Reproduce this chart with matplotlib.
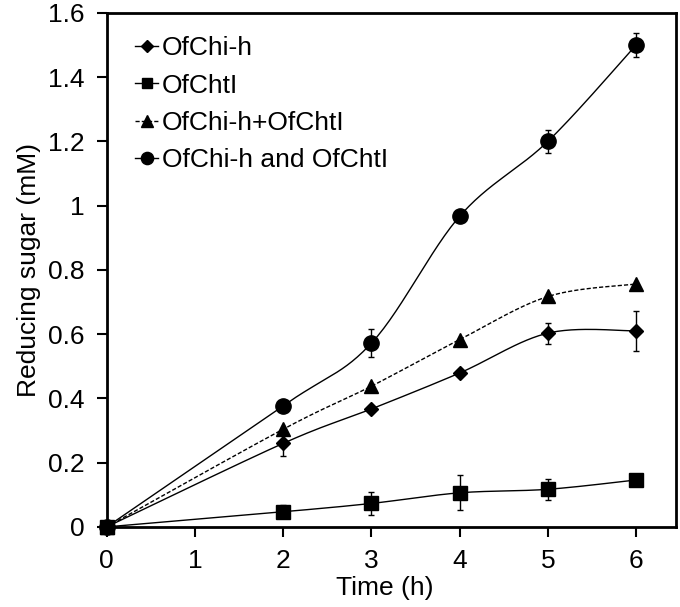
import numpy as np
import matplotlib
matplotlib.use("Agg")
import matplotlib.pyplot as plt
from matplotlib.lines import Line2D
from matplotlib.ticker import FormatStrFormatter

plt.rcParams['font.family'] = ['Liberation Sans', 'DejaVu Sans']

time_h = [0, 2, 3, 4, 5, 6]

chi_h = [0, 0.26, 0.367, 0.479, 0.603, 0.61]
chi_h_err = [0, 0.04, 0.0, 0.0, 0.033, 0.063]

chtl = [0, 0.047, 0.073, 0.106, 0.117, 0.146]
chtl_err = [0, 0.02, 0.035, 0.055, 0.032, 0.0]

chi_plus = [0, 0.304, 0.438, 0.583, 0.717, 0.756]
chi_plus_err = [0, 0, 0, 0, 0, 0]

chi_and = [0, 0.377, 0.572, 0.967, 1.2, 1.5]
chi_and_err = [0, 0, 0.044, 0, 0.036, 0.037]


def smooth(x, y, n=30):
    # excel-like smoothed line (catmull-rom bezier)
    x = np.asarray(x, float)
    y = np.asarray(y, float)
    px = np.concatenate([[x[0]], x, [x[-1]]])
    py = np.concatenate([[y[0]], y, [y[-1]]])
    xs, ys = [], []
    t = np.linspace(0, 1, n)
    for i in range(1, len(px) - 2):
        p0 = np.array([px[i], py[i]])
        p3 = np.array([px[i + 1], py[i + 1]])
        c1 = p0 + (np.array([px[i + 1], py[i + 1]]) - np.array([px[i - 1], py[i - 1]])) / 6
        c2 = p3 - (np.array([px[i + 2], py[i + 2]]) - np.array([px[i], py[i]])) / 6
        for k in range(2):
            b = ((1 - t) ** 3 * p0[k] + 3 * (1 - t) ** 2 * t * c1[k]
                 + 3 * (1 - t) * t ** 2 * c2[k] + t ** 3 * p3[k])
            (xs if k == 0 else ys).append(b)
    return np.concatenate(xs), np.concatenate(ys)


fig = plt.figure(figsize=(6.8, 6.07), dpi=100)
ax = fig.add_axes([0.157, 0.132, 0.837, 0.847])

series = [
    (chi_h, chi_h_err, 'D', 7.5, '-', 'OfChi-h'),
    (chtl, chtl_err, 's', 9.5, '-', 'OfChtI'),
    (chi_plus, chi_plus_err, '^', 10, (0, (3, 1.5)), 'OfChi-h+OfChtI'),
    (chi_and, chi_and_err, 'o', 11, '-', 'OfChi-h and OfChtI'),
]

handles = []
for vals, err, mk, ms, ls, lab in series:
    sx, sy = smooth(time_h, vals)
    ax.plot(sx, sy, color='black', lw=1.0, ls=ls)
    ax.errorbar(time_h, vals, yerr=err, fmt='none', ecolor='black',
                elinewidth=1.0, capsize=2.5, capthick=1.0)
    ax.plot(time_h, vals, ls='none', marker=mk, ms=ms, color='black',
            clip_on=False, zorder=5)
    handles.append(Line2D([], [], color='black', lw=1.0, ls=ls, marker=mk,
                          ms=ms * 0.8, label=lab))

ax.set_xlim(0, 6.45)
ax.set_ylim(0, 1.6)
ax.set_xticks(range(7))
ax.set_yticks(np.arange(0, 1.61, 0.2))
ax.yaxis.set_major_formatter(FormatStrFormatter('%g'))
ax.tick_params(direction='out', length=7, width=1.5, labelsize=19, pad=9)

for s in ax.spines.values():
    s.set_linewidth(2.0)

ax.set_xlabel('Time (h)', fontsize=19, labelpad=2)
ax.xaxis.label.set_x(0.489)
ax.set_ylabel('Reducing sugar (mM)', fontsize=19, labelpad=5)

ax.legend(handles=handles, loc='upper left', frameon=False, fontsize=19,
          handlelength=0.85, handletextpad=0.15, labelspacing=0.5,
          borderaxespad=0.3, bbox_to_anchor=(0.018, 0.99))

fig.savefig('out.png', dpi=100)
